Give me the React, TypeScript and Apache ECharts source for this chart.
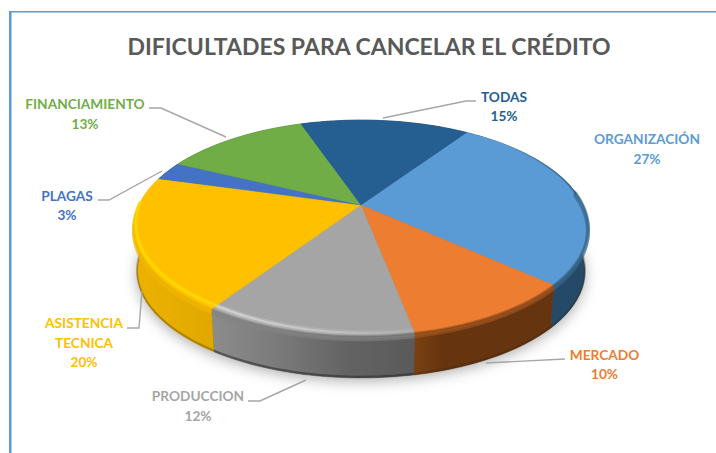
import React, { useEffect, useRef } from "react";
import * as echarts from "echarts";

const TITLE = "DIFICULTADES PARA CANCELAR EL CRÉDITO";
const categories = ["ORGANIZACIÓN", "MERCADO", "PRODUCCION", "ASISTENCIA\nTECNICA", "PLAGAS", "FINANCIAMIENTO", "TODAS"];
const values = [27.2, 10.3, 12.4, 20.0, 2.8, 12.6, 14.7];
const colors = ["#5B9BD5", "#ED7D31", "#A5A5A5", "#FFC000", "#4472C4", "#70AD47", "#255E91"];

// presentation tables (not data)
const START_ANGLE = 34;
const wallStops: string[][] = [
  ["#254A68", "#254A68"],
  ["#7C4112", "#66340F", "#66340F", "#66340F", "#66340F", "#66340F"],
  ["#8C8C8C", "#7A7A7A", "#636363", "#5A5A5A"],
  ["#EDB200", "#E0A800"],
  ["#2A4476", "#2A4476"],
  ["#43682B", "#43682B"],
  ["#163856", "#163856"],
];
const bevels: any[] = [
  { soft: "#3B678C", hi: null, hiA: [0, 0], r: [1, 1], from: 82 },
  { soft: "#A3561F", hi: null, hiA: [0, 0], r: [1, 1], from: 82 },
  { soft: "#838383", hi: "#D8D8D8", hiA: [0.15, 1], r: [0.985, 0.972], from: 82 },
  { soft: "#F0B500", hi: "#FFDC00", hiA: [1, 0.9], r: [0.972, 0.998], from: 82 },
  null,
  null,
  null,
];
const labelLayout = [
  { x: 647, y: 148.5, line: null },
  { x: 604.5, y: 364, line: [[486, 363], [565, 359]] },
  { x: 198, y: 405.5, line: [[248, 401], [260, 401], [306, 380]] },
  { x: 84, y: 342, line: [[127, 328], [139, 328], [142, 291]] },
  { x: 67, y: 205, line: [[98, 200], [109, 200], [162, 171]] },
  { x: 85, y: 113.5, line: [[149, 108], [161, 108], [226, 137]] },
  { x: 504, y: 106, line: [[383, 118], [466, 101], [476, 101]] },
];

const total = values.reduce((a, b) => a + b, 0);
const P = 0.213;
const TOP = { cx: 361, cy: 205, R: 222, H: 103 };
const BOT = { cx: 361, cy: 249, R: 218.7, H: 101.5 };

function project(deg: number, r: number, d: any): number[] {
  const t = (deg * Math.PI) / 180;
  const u = r * Math.sin(t);
  const v = -r * Math.cos(t);
  const w = 1 - P * v;
  return [d.cx + (d.R * u) / w, d.cy + (d.H * v) / w];
}
function arc(a: number, b: number, r: number, d: any): number[][] {
  const n = Math.max(2, Math.ceil(Math.abs(b - a) / 1.5));
  const pts: number[][] = [];
  for (let i = 0; i <= n; i++) pts.push(project(a + ((b - a) * i) / n, r, d));
  return pts;
}
// a curve on the rim: part way from the top edge down towards the bottom edge
function rimArc(a: number, b: number, t: number): number[][] {
  const p = arc(a, b, 1, TOP);
  const q = arc(a, b, 1, BOT);
  return p.map((pt, k) => [pt[0] + (q[k][0] - pt[0]) * t, pt[1] + (q[k][1] - pt[1]) * t]);
}
function radArc(a: number, b: number, r0: number, r1: number): number[][] {
  const n = Math.max(2, Math.ceil(Math.abs(b - a) / 1.5));
  const pts: number[][] = [];
  for (let i = 0; i <= n; i++) pts.push(project(a + ((b - a) * i) / n, r0 + ((r1 - r0) * i) / n, TOP));
  return pts;
}
function range(i: number): number[] {
  let s = 0;
  for (let k = 0; k < i; k++) s += values[k];
  return [START_ANGLE + (s / total) * 360, START_ANGLE + ((s + values[i]) / total) * 360];
}
function hgrad(x0: number, x1: number, cols: string[]) {
  return new echarts.graphic.LinearGradient(
    x0, 0, x1, 0,
    cols.map((c, k) => ({ offset: cols.length > 1 ? k / (cols.length - 1) : 0, color: c })),
    true
  );
}
function rgba(hex: string, a: number) {
  const n = parseInt(hex.slice(1), 16);
  return `rgba(${(n >> 16) & 255},${(n >> 8) & 255},${n & 255},${a})`;
}

function renderWall(params: any) {
  const i = params.dataIndex;
  const [a, b] = range(i);
  const top = arc(a, b, 1, TOP);
  const bot = arc(a, b, 1, BOT).reverse();
  const xs = top.concat(bot).map((p) => p[0]);
  const x0 = Math.min(...xs), x1 = Math.max(...xs);
  const children: any[] = [];
  if (i === 0) {
    children.push({
      type: "polygon",
      z2: 0,
      shape: { points: arc(0, 360, 1, BOT) },
      style: { fill: "#777", shadowBlur: 14, shadowColor: "rgba(0,0,0,0.32)", shadowOffsetY: 3 },
    });
  }
  children.push({
    type: "polygon",
    z2: 1,
    shape: { points: top.concat(bot) },
    style: { fill: hgrad(x0, x1, wallStops[i]), stroke: wallStops[i][wallStops[i].length - 1], lineWidth: 0.5 },
  });
  const fa = Math.max(a, 85), fb = Math.min(b, 285);
  if (fb > fa) {
    children.push({
      type: "polyline",
      z2: 2,
      shape: { points: rimArc(fa, fb, 0.97) },
      style: { stroke: i === 2 ? "rgba(40,40,40,0.55)" : "rgba(50,40,20,0.3)", lineWidth: 2, fill: null },
    });
  }
  return { type: "group", children };
}

function renderTop(params: any) {
  const i = params.dataIndex;
  const [a, b] = range(i);
  const children: any[] = [
    {
      type: "polygon",
      z2: 3,
      shape: { points: [[TOP.cx, TOP.cy]].concat(arc(a, b, 1, TOP)) },
      style: { fill: colors[i], stroke: colors[i], lineWidth: 0.4 },
    },
  ];
  const bev = bevels[i];
  if (bev) {
    const fa = Math.max(a, bev.from), fb = Math.min(b, 272);
    // soft blend across the rounded edge
    [
      [0.03, 4, 0.5],
      [0.08, 4, 0.6],
      [0.0, 2, 0.35],
    ].forEach(([t, w, al]) => {
      children.push({
        type: "polyline",
        z2: 4,
        shape: { points: rimArc(fa, fb, t) },
        style: { stroke: rgba(bev.soft, al), lineWidth: w, fill: null },
      });
    });
    if (bev.hi) {
      const pts = radArc(fa, fb, bev.r[0], bev.r[1]);
      const xa = pts[0][0], xb = pts[pts.length - 1][0];
      children.push({
        type: "polyline",
        z2: 5,
        shape: { points: pts },
        style: {
          stroke: hgrad(xa, xb, [rgba(bev.hi, bev.hiA[0] * 0.4), rgba(bev.hi, bev.hiA[1] * 0.4)]),
          lineWidth: 5,
          fill: null,
        },
      });
      children.push({
        type: "polyline",
        z2: 5,
        shape: { points: pts },
        style: {
          stroke: hgrad(xa, xb, [rgba(bev.hi, bev.hiA[0] * 0.85), rgba(bev.hi, bev.hiA[1] * 0.85)]),
          lineWidth: 2,
          fill: null,
        },
      });
    }
  }
  if (i === 0) {
    children.push({
      type: "polyline",
      z2: 5,
      shape: { points: arc(52, 84, 0.997, TOP) },
      style: {
        stroke: hgrad(510, 588, ["rgba(37,74,104,0)", "rgba(37,74,104,0.8)"]),
        lineWidth: 1.5,
        fill: null,
      },
    });
  }
  return { type: "group", children };
}

function renderLabel(params: any) {
  const i = params.dataIndex;
  const l = labelLayout[i];
  const children: any[] = [
    {
      type: "text",
      z2: 10,
      style: {
        x: l.x,
        y: l.y,
        text: `${categories[i]}\n${Math.round(values[i])}%`,
        fill: colors[i],
        font: 'bold 13.7px Lato, "Open Sans", sans-serif',
        align: "center",
        verticalAlign: "middle",
        lineHeight: 19.5,
      },
    },
  ];
  if (l.line) {
    children.push({
      type: "polyline",
      z2: 9,
      shape: { points: l.line },
      style: { stroke: "#A6A6A6", lineWidth: 1.4, fill: null },
    });
  }
  return { type: "group", children };
}

export default function App() {
  const ref = useRef<HTMLDivElement>(null);
  useEffect(() => {
    const chart = echarts.init(ref.current!, undefined, { renderer: "svg" });
    const data = values.map((v, i) => ({ name: categories[i], value: v }));
    chart.setOption({
      animation: false,
      backgroundColor: "#ffffff",
      title: {
        text: TITLE,
        left: 364,
        top: 29,
        textAlign: "center",
        textStyle: { fontFamily: "Lato, 'Open Sans', sans-serif", fontWeight: "bold", fontSize: 23, color: "#595959" },
      },
      graphic: [
        { type: "rect", shape: { x: 9, y: 11, width: 2.5, height: 442 }, style: { fill: "#5B9BD5" }, silent: true },
        { type: "rect", shape: { x: 9, y: 11, width: 707, height: 1.5 }, style: { fill: "#5B9BD5" }, silent: true },
      ],
      series: [
        { type: "custom", name: "walls", coordinateSystem: "none", z: 2, renderItem: renderWall, data, clip: false },
        { type: "custom", name: "tops", coordinateSystem: "none", z: 3, renderItem: renderTop, data, clip: false },
        { type: "custom", name: "labels", coordinateSystem: "none", z: 4, renderItem: renderLabel, data, clip: false },
      ],
    });
    return () => chart.dispose();
  }, []);
  return <div ref={ref} style={{ position: "fixed", left: 0, top: 0, width: 716, height: 453 }} />;
}
